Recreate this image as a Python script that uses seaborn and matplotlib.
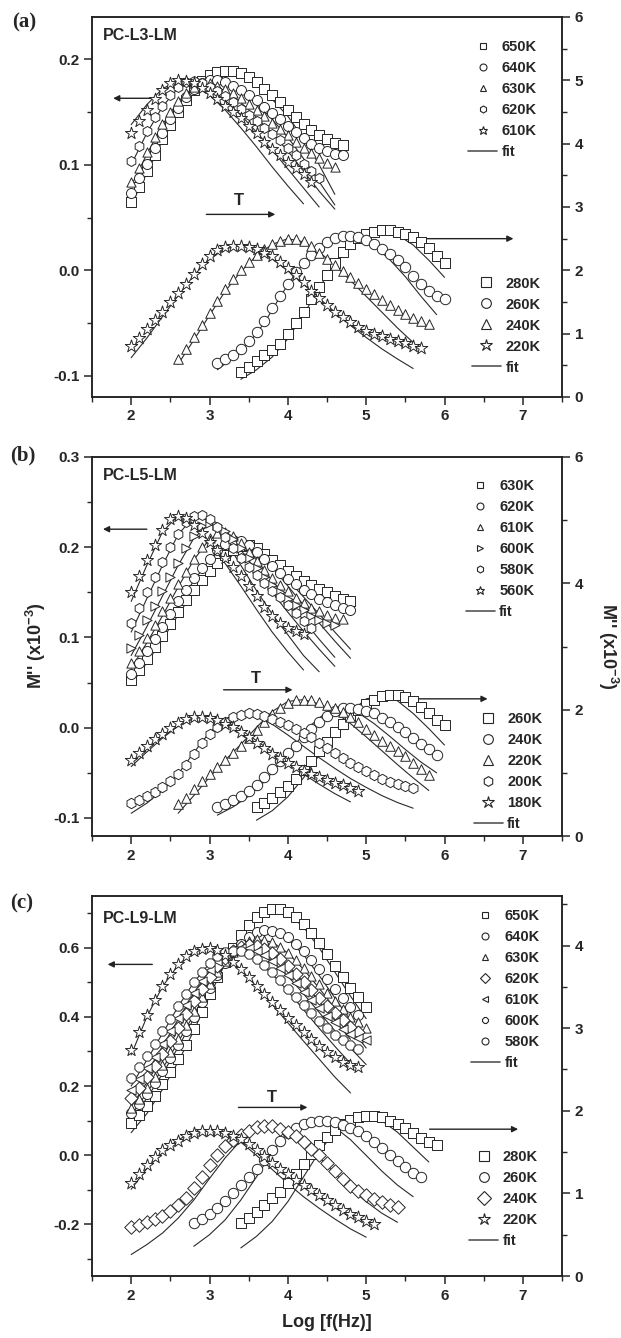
import matplotlib
matplotlib.use("Agg")
import matplotlib.pyplot as plt
import seaborn as sns
import pandas as pd
from matplotlib.lines import Line2D
from matplotlib.ticker import MultipleLocator

# ---------------- data ----------------
# marker series: y values on a log f grid starting at *_x0 with step 0.1
# fit series: y values on a grid starting at *_fx0 with step 0.2

# ---- panel (a) PC-L3-LM, high T (left axis)
a_hi_T = ["650K", "640K", "630K", "620K", "610K"]
a_hi_x0 = [2.0, 2.0, 2.0, 2.0, 2.0]
a_650 = [0.065, 0.079, 0.094, 0.109, 0.124, 0.138, 0.150, 0.161, 0.171, 0.179, 0.185, 0.188, 0.189, 0.189,
         0.187, 0.183, 0.178, 0.172, 0.166, 0.159, 0.152, 0.145, 0.139, 0.133, 0.128, 0.124, 0.121, 0.119]
a_640 = [0.073, 0.087, 0.101, 0.116, 0.130, 0.143, 0.154, 0.164, 0.172, 0.177, 0.180, 0.180, 0.178, 0.175,
         0.171, 0.166, 0.161, 0.155, 0.149, 0.143, 0.137, 0.131, 0.125, 0.120, 0.116, 0.113, 0.110, 0.109]
a_630 = [0.084, 0.097, 0.112, 0.126, 0.139, 0.150, 0.160, 0.168, 0.174, 0.177, 0.177, 0.175, 0.172, 0.168,
         0.163, 0.158, 0.152, 0.146, 0.140, 0.134, 0.128, 0.122, 0.116, 0.111, 0.106, 0.102, 0.098]
a_620 = [0.104, 0.118, 0.132, 0.145, 0.156, 0.166, 0.174, 0.178, 0.179, 0.177, 0.174, 0.170, 0.165, 0.159,
         0.153, 0.147, 0.141, 0.135, 0.129, 0.123, 0.116, 0.109, 0.101, 0.094, 0.087]
a_610 = [0.130, 0.141, 0.152, 0.162, 0.171, 0.177, 0.180, 0.179, 0.177, 0.173, 0.168, 0.162, 0.156, 0.150,
         0.144, 0.137, 0.130, 0.122, 0.115, 0.109, 0.103, 0.097, 0.091, 0.084]
a_hi_fx0 = [2.0, 2.0, 2.0, 2.0, 2.0]
a_650_fit = [0.062, 0.092, 0.123, 0.150, 0.171, 0.185, 0.189, 0.186, 0.176, 0.162, 0.146, 0.125, 0.100, 0.072]
a_640_fit = [0.070, 0.099, 0.129, 0.153, 0.171, 0.179, 0.178, 0.170, 0.158, 0.143, 0.126, 0.106, 0.084, 0.062]
a_630_fit = [0.080, 0.110, 0.138, 0.160, 0.174, 0.177, 0.170, 0.159, 0.145, 0.130, 0.113, 0.094, 0.075, 0.058]
a_620_fit = [0.100, 0.130, 0.155, 0.173, 0.179, 0.172, 0.161, 0.147, 0.131, 0.114, 0.096, 0.078, 0.060]
a_610_fit = [0.138, 0.157, 0.172, 0.180, 0.176, 0.166, 0.152, 0.135, 0.117, 0.098, 0.080, 0.063]

# ---- panel (a), low T (right axis)
a_lo_T = ["280K", "260K", "240K", "220K"]
a_lo_x0 = [3.4, 3.1, 2.6, 2.0]
a_280 = [0.40, 0.47, 0.57, 0.66, 0.74, 0.84, 1.00, 1.17, 1.35, 1.54, 1.73, 1.93, 2.12, 2.29, 2.42, 2.51,
         2.57, 2.61, 2.63, 2.63, 2.61, 2.57, 2.52, 2.45, 2.35, 2.23, 2.12]
a_260 = [0.53, 0.60, 0.67, 0.76, 0.88, 1.03, 1.20, 1.40, 1.60, 1.79, 1.97, 2.12, 2.25, 2.36, 2.45, 2.51,
         2.54, 2.54, 2.52, 2.48, 2.42, 2.34, 2.26, 2.17, 2.05, 1.91, 1.79, 1.68, 1.60, 1.55]
a_240 = [0.60, 0.76, 0.95, 1.13, 1.32, 1.52, 1.70, 1.86, 2.00, 2.13, 2.24, 2.34, 2.42, 2.47, 2.50, 2.50,
         2.46, 2.38, 2.28, 2.18, 2.08, 1.99, 1.89, 1.80, 1.71, 1.62, 1.53, 1.45, 1.37, 1.31, 1.25, 1.20, 1.16]
a_220 = [0.80, 0.93, 1.07, 1.21, 1.35, 1.50, 1.64, 1.79, 1.95, 2.10, 2.23, 2.32, 2.37, 2.39, 2.39, 2.37,
         2.33, 2.28, 2.22, 2.13, 2.04, 1.93, 1.81, 1.68, 1.56, 1.45, 1.35, 1.26, 1.18, 1.11, 1.05, 1.00,
         0.96, 0.92, 0.89, 0.85, 0.81, 0.77]
a_lo_fx0 = [3.4, 3.1, 2.6, 2.0]
a_280_fit = [0.28, 0.43, 0.63, 0.92, 1.30, 1.72, 2.12, 2.43, 2.59, 2.63, 2.56, 2.40, 2.16, 1.89]
a_260_fit = [0.43, 0.62, 0.85, 1.17, 1.58, 1.96, 2.25, 2.45, 2.54, 2.51, 2.39, 2.17, 1.90, 1.59, 1.30]
a_240_fit = [0.52, 0.90, 1.29, 1.67, 1.98, 2.23, 2.41, 2.50, 2.45, 2.29, 2.08, 1.84, 1.59, 1.34, 1.09, 0.86]
a_220_fit = [0.62, 0.93, 1.27, 1.60, 1.92, 2.18, 2.34, 2.39, 2.32, 2.18, 1.99, 1.78, 1.56, 1.34, 1.13,
             0.94, 0.76, 0.60, 0.45]

# ---- panel (b) PC-L5-LM, high T (left axis)
b_hi_T = ["630K", "620K", "610K", "600K", "580K", "560K"]
b_hi_x0 = [2.0, 2.0, 2.0, 2.0, 2.0, 2.0]
b_630 = [0.053, 0.064, 0.076, 0.089, 0.102, 0.115, 0.128, 0.141, 0.153, 0.164, 0.174, 0.183, 0.191, 0.197,
         0.201, 0.202, 0.199, 0.193, 0.186, 0.180, 0.174, 0.168, 0.163, 0.158, 0.154, 0.150, 0.146, 0.143, 0.140]
b_620 = [0.060, 0.072, 0.085, 0.098, 0.112, 0.126, 0.140, 0.153, 0.166, 0.177, 0.187, 0.197, 0.204, 0.208,
         0.207, 0.202, 0.195, 0.187, 0.179, 0.172, 0.165, 0.159, 0.153, 0.148, 0.143, 0.139, 0.136, 0.133, 0.131]
b_610 = [0.072, 0.085, 0.099, 0.114, 0.129, 0.144, 0.159, 0.173, 0.187, 0.200, 0.210, 0.216, 0.217, 0.213,
         0.205, 0.195, 0.185, 0.175, 0.166, 0.158, 0.151, 0.144, 0.138, 0.133, 0.129, 0.125, 0.122, 0.120]
b_600 = [0.088, 0.103, 0.119, 0.135, 0.151, 0.167, 0.183, 0.199, 0.213, 0.223, 0.227, 0.225, 0.218, 0.209,
         0.199, 0.188, 0.177, 0.167, 0.158, 0.150, 0.143, 0.136, 0.130, 0.124, 0.119, 0.116, 0.114]
b_580 = [0.116, 0.133, 0.150, 0.167, 0.184, 0.200, 0.215, 0.228, 0.235, 0.236, 0.231, 0.222, 0.211, 0.199,
         0.188, 0.178, 0.169, 0.160, 0.152, 0.145, 0.136, 0.127, 0.118, 0.111]
b_560 = [0.150, 0.168, 0.186, 0.203, 0.219, 0.231, 0.235, 0.232, 0.225, 0.216, 0.206, 0.197, 0.188, 0.178,
         0.168, 0.157, 0.146, 0.134, 0.124, 0.116, 0.111, 0.107, 0.104]
b_hi_fx0 = [2.0, 2.0, 2.0, 2.0, 2.0, 2.0]
b_630_fit = [0.048, 0.072, 0.098, 0.125, 0.151, 0.173, 0.190, 0.200, 0.197, 0.183, 0.164, 0.145, 0.126, 0.106, 0.087]
b_620_fit = [0.055, 0.080, 0.107, 0.136, 0.163, 0.186, 0.203, 0.207, 0.196, 0.178, 0.157, 0.136, 0.116, 0.096, 0.077]
b_610_fit = [0.066, 0.094, 0.124, 0.156, 0.186, 0.209, 0.217, 0.206, 0.186, 0.163, 0.141, 0.119, 0.098, 0.078]
b_600_fit = [0.080, 0.112, 0.146, 0.180, 0.210, 0.226, 0.218, 0.197, 0.174, 0.150, 0.128, 0.107, 0.087, 0.068]
b_580_fit = [0.106, 0.143, 0.180, 0.214, 0.234, 0.230, 0.208, 0.180, 0.152, 0.126, 0.103, 0.080, 0.062]
b_560_fit = [0.140, 0.180, 0.217, 0.235, 0.226, 0.206, 0.182, 0.157, 0.131, 0.106, 0.084, 0.064]

# ---- panel (b), low T (right axis)
b_lo_T = ["260K", "240K", "220K", "200K", "180K"]
b_lo_x0 = [3.6, 3.1, 2.6, 2.0, 2.0]
b_260 = [0.46, 0.52, 0.60, 0.69, 0.79, 0.91, 1.05, 1.19, 1.34, 1.49, 1.64, 1.78, 1.90, 2.00, 2.09, 2.16,
         2.21, 2.23, 2.23, 2.20, 2.14, 2.05, 1.94, 1.84, 1.75]
b_240 = [0.46, 0.51, 0.57, 0.64, 0.72, 0.81, 0.93, 1.06, 1.19, 1.31, 1.43, 1.56, 1.69, 1.80, 1.90, 1.98,
         2.02, 2.03, 2.01, 1.98, 1.94, 1.87, 1.80, 1.72, 1.64, 1.55, 1.46, 1.37, 1.29]
b_220 = [0.50, 0.60, 0.75, 0.87, 0.98, 1.09, 1.20, 1.31, 1.43, 1.55, 1.68, 1.81, 1.93, 2.03, 2.11, 2.15,
         2.16, 2.15, 2.12, 2.08, 2.03, 1.97, 1.89, 1.80, 1.70, 1.60, 1.51, 1.43, 1.35, 1.26, 1.16, 1.06, 0.97]
b_200 = [0.52, 0.57, 0.63, 0.70, 0.77, 0.87, 0.98, 1.13, 1.30, 1.47, 1.61, 1.72, 1.81, 1.88, 1.92, 1.94,
         1.93, 1.90, 1.86, 1.81, 1.76, 1.70, 1.63, 1.56, 1.48, 1.40, 1.32, 1.24, 1.16, 1.09, 1.03, 0.97,
         0.91, 0.86, 0.83, 0.79, 0.76]
b_180 = [1.20, 1.32, 1.43, 1.53, 1.62, 1.71, 1.79, 1.85, 1.88, 1.89, 1.87, 1.83, 1.78, 1.72, 1.65, 1.57,
         1.48, 1.39, 1.30, 1.23, 1.16, 1.09, 1.03, 0.98, 0.93, 0.88, 0.84, 0.80, 0.76, 0.72]
b_lo_fx0 = [3.6, 3.1, 2.6, 2.0, 2.0]
b_260_fit = [0.25, 0.40, 0.62, 0.92, 1.28, 1.64, 1.96, 2.17, 2.23, 2.14, 1.94, 1.70, 1.44]
b_240_fit = [0.33, 0.46, 0.63, 0.86, 1.15, 1.46, 1.76, 1.97, 2.03, 1.95, 1.78, 1.58, 1.37, 1.17, 1.00]
b_220_fit = [0.36, 0.64, 0.93, 1.20, 1.45, 1.72, 1.97, 2.13, 2.16, 2.09, 1.96, 1.78, 1.57, 1.35, 1.13, 0.92, 0.72]
b_200_fit = [0.36, 0.52, 0.72, 0.98, 1.32, 1.64, 1.86, 1.94, 1.90, 1.77, 1.60, 1.42, 1.24, 1.07, 0.91,
             0.77, 0.64, 0.53, 0.44]
b_180_fit = [1.10, 1.33, 1.55, 1.74, 1.86, 1.89, 1.82, 1.68, 1.51, 1.33, 1.15, 0.98, 0.82, 0.67, 0.54]

# ---- panel (c) PC-L9-LM, high T (left axis)
c_hi_T = ["650K", "640K", "630K", "620K", "610K", "600K", "580K"]
c_hi_x0 = [2.0, 2.0, 2.0, 2.0, 2.0, 2.0, 2.0]
c_650 = [0.092, 0.115, 0.142, 0.172, 0.205, 0.240, 0.277, 0.318, 0.365, 0.415, 0.465, 0.515, 0.560, 0.600,
         0.637, 0.665, 0.688, 0.703, 0.711, 0.712, 0.705, 0.690, 0.668, 0.642, 0.614, 0.582, 0.548, 0.515,
         0.484, 0.458, 0.430]
c_640 = [0.121, 0.147, 0.176, 0.208, 0.243, 0.280, 0.318, 0.358, 0.400, 0.442, 0.483, 0.522, 0.557, 0.587,
         0.612, 0.632, 0.645, 0.651, 0.650, 0.643, 0.630, 0.612, 0.590, 0.565, 0.538, 0.510, 0.482, 0.455,
         0.428, 0.405]
c_630 = [0.136, 0.163, 0.193, 0.226, 0.261, 0.298, 0.337, 0.377, 0.418, 0.458, 0.496, 0.531, 0.562, 0.587,
         0.606, 0.619, 0.625, 0.624, 0.616, 0.602, 0.585, 0.565, 0.543, 0.519, 0.494, 0.469, 0.445, 0.422,
         0.401, 0.384, 0.369]
c_620 = [0.165, 0.194, 0.225, 0.258, 0.293, 0.330, 0.368, 0.407, 0.445, 0.482, 0.516, 0.546, 0.571, 0.590,
         0.603, 0.608, 0.606, 0.598, 0.585, 0.567, 0.547, 0.525, 0.502, 0.478, 0.455, 0.432, 0.410, 0.390,
         0.372, 0.356]
c_610 = [0.189, 0.219, 0.251, 0.285, 0.321, 0.358, 0.396, 0.434, 0.470, 0.504, 0.535, 0.561, 0.581, 0.594,
         0.600, 0.599, 0.592, 0.579, 0.562, 0.542, 0.520, 0.497, 0.473, 0.449, 0.426, 0.404, 0.384, 0.366,
         0.351, 0.340, 0.332]
c_600 = [0.223, 0.254, 0.287, 0.322, 0.358, 0.395, 0.432, 0.467, 0.500, 0.530, 0.556, 0.575, 0.587, 0.592,
         0.590, 0.582, 0.568, 0.550, 0.529, 0.506, 0.482, 0.458, 0.434, 0.411, 0.389, 0.368, 0.349, 0.332,
         0.318, 0.307]
c_580 = [0.305, 0.355, 0.405, 0.450, 0.490, 0.525, 0.553, 0.575, 0.590, 0.598, 0.600, 0.593, 0.578, 0.560,
         0.540, 0.516, 0.490, 0.466, 0.442, 0.420, 0.398, 0.377, 0.356, 0.336, 0.317, 0.299, 0.283, 0.270,
         0.262, 0.255]
c_hi_fx0 = [2.0, 2.0, 2.0, 2.0, 2.0, 2.0, 2.0]
c_650_fit = [0.065, 0.120, 0.190, 0.270, 0.360, 0.460, 0.555, 0.635, 0.690, 0.712, 0.700, 0.660, 0.600,
             0.530, 0.460, 0.395]
c_640_fit = [0.100, 0.165, 0.235, 0.312, 0.395, 0.478, 0.553, 0.610, 0.645, 0.650, 0.625, 0.580, 0.520,
             0.455, 0.390]
c_630_fit = [0.115, 0.180, 0.250, 0.327, 0.407, 0.485, 0.553, 0.600, 0.624, 0.617, 0.585, 0.538, 0.483,
             0.425, 0.367, 0.310]
c_620_fit = [0.140, 0.210, 0.285, 0.363, 0.440, 0.512, 0.568, 0.600, 0.607, 0.588, 0.550, 0.500, 0.445,
             0.390, 0.335]
c_610_fit = [0.165, 0.238, 0.315, 0.393, 0.468, 0.533, 0.580, 0.600, 0.593, 0.562, 0.518, 0.467, 0.413,
             0.360, 0.310, 0.262]
c_600_fit = [0.200, 0.275, 0.352, 0.430, 0.500, 0.555, 0.587, 0.590, 0.566, 0.525, 0.475, 0.421, 0.367,
             0.315, 0.265]
c_580_fit = [0.290, 0.400, 0.488, 0.550, 0.590, 0.600, 0.578, 0.538, 0.488, 0.436, 0.383, 0.330, 0.278,
             0.226, 0.180]

# ---- panel (c), low T (right axis)
c_lo_T = ["280K", "260K", "240K", "220K"]
c_lo_x0 = [3.4, 2.8, 2.0, 2.0]
c_280 = [0.64, 0.70, 0.78, 0.86, 0.94, 1.02, 1.12, 1.24, 1.36, 1.48, 1.58, 1.68, 1.77, 1.84, 1.89, 1.92,
         1.94, 1.94, 1.92, 1.88, 1.84, 1.79, 1.73, 1.67, 1.62, 1.58]
c_260 = [0.64, 0.69, 0.75, 0.82, 0.91, 1.00, 1.10, 1.20, 1.30, 1.41, 1.53, 1.64, 1.73, 1.79, 1.84, 1.87,
         1.88, 1.88, 1.86, 1.83, 1.79, 1.75, 1.69, 1.62, 1.55, 1.47, 1.39, 1.32, 1.25, 1.20]
c_240 = [0.59, 0.62, 0.65, 0.69, 0.73, 0.79, 0.86, 0.95, 1.07, 1.20, 1.34, 1.47, 1.57, 1.65, 1.71, 1.76,
         1.80, 1.82, 1.81, 1.78, 1.74, 1.69, 1.62, 1.54, 1.46, 1.37, 1.27, 1.17, 1.09, 1.03, 0.98, 0.93,
         0.89, 0.86, 0.84]
c_220 = [1.13, 1.24, 1.34, 1.44, 1.52, 1.59, 1.64, 1.69, 1.73, 1.75, 1.76, 1.75, 1.73, 1.70, 1.66, 1.60,
         1.53, 1.45, 1.37, 1.30, 1.23, 1.16, 1.10, 1.04, 0.98, 0.92, 0.86, 0.80, 0.75, 0.71, 0.67, 0.63]
c_lo_fx0 = [3.4, 2.8, 2.0, 2.0]
c_280_fit = [0.34, 0.48, 0.66, 0.90, 1.20, 1.50, 1.75, 1.90, 1.94, 1.88, 1.74, 1.56, 1.38]
c_260_fit = [0.36, 0.50, 0.68, 0.92, 1.20, 1.50, 1.74, 1.86, 1.88, 1.80, 1.65, 1.46, 1.27, 1.10, 0.96]
c_240_fit = [0.26, 0.38, 0.52, 0.70, 0.92, 1.18, 1.43, 1.64, 1.78, 1.82, 1.76, 1.62, 1.44, 1.24, 1.06,
             0.90, 0.76, 0.65]
c_220_fit = [1.05, 1.30, 1.50, 1.65, 1.74, 1.76, 1.72, 1.62, 1.46, 1.29, 1.12, 0.96, 0.82, 0.69, 0.57, 0.47]

# marker shapes (plot) and legend shapes
a_hi_mk = ["s", "o", "^", "h", "*"]
a_lo_mk = ["s", "o", "^", "*"]
b_hi_mk = ["s", "o", "^", ">", "h", "*"]
b_lo_mk = ["s", "o", "^", "h", "*"]
c_hi_mk = ["s", "o", "^", "D", "<", "8", "*"]
c_hi_leg_mk = ["s", "o", "^", "D", "<", "8", "o"]
c_lo_mk = ["s", "o", "D", "*"]

# ---------------- helpers ----------------
def frame(labels, x0s, ys, step):
    rows = []
    for lab, x0, y in zip(labels, x0s, ys):
        for i, v in enumerate(y):
            rows.append((lab, round(x0 + step * i, 3), v))
    return pd.DataFrame(rows, columns=["T", "logf", "M"])


EDGE = "#262626"
FITC = "#2a2a2a"


def draw_group(ax, labels, x0s, ys, fx0s, fys, markers, size):
    fit = frame(labels, fx0s, fys, 0.2)
    sns.lineplot(data=fit, x="logf", y="M", units="T", estimator=None, color=FITC,
                 lw=0.8, ax=ax, legend=False, zorder=1, sort=False)
    dat = frame(labels, x0s, ys, 0.1)
    for lab, m in zip(labels, markers):
        sub = dat[dat["T"] == lab]
        s = size * (1.6 if m == "*" else (0.85 if m in ("^", "<", ">", "D") else 1.0))
        sns.scatterplot(data=sub, x="logf", y="M", marker=m, s=s, color="white",
                        edgecolor=EDGE, linewidth=0.7, ax=ax, legend=False, zorder=2)


def add_legend(ax, labels, markers, ms, x, y, spacing):
    handles = [Line2D([], [], ls="none", marker=m, ms=ms * (1.25 if m == "*" else 1.0), mfc="white",
                      mec=EDGE, mew=0.8) for m in markers]
    handles.append(Line2D([], [], color="#555555", lw=1.2))
    leg = ax.legend(handles, list(labels) + ["fit"], loc="upper left", bbox_to_anchor=(x, y),
                    bbox_transform=ax.transAxes, frameon=False, borderpad=0, borderaxespad=0,
                    handlelength=2.0, handletextpad=0.3, labelspacing=spacing,
                    prop={"weight": "bold", "size": 10.5})
    return leg


def arrow(ax, x0, x1, y):
    ax.annotate("", xy=(x1, y), xytext=(x0, y),
                arrowprops=dict(arrowstyle="-|>", color="#222222", lw=1.0, mutation_scale=9,
                                shrinkA=0, shrinkB=0))


# ---------------- figure ----------------
sns.set_style("ticks")
plt.rcParams["font.family"] = ["Liberation Sans", "DejaVu Sans"]
plt.rcParams["font.weight"] = "bold"
plt.rcParams["axes.unicode_minus"] = False
plt.rcParams["mathtext.fontset"] = "custom"
plt.rcParams["mathtext.rm"] = "Liberation Sans:bold"
plt.rcParams["mathtext.bf"] = "Liberation Sans:bold"
plt.rcParams["mathtext.default"] = "bf"

fig = plt.figure(figsize=(6.21, 13.38), dpi=100)
L, W = 92 / 621, 470 / 621
tops = [17, 457, 896]
bots = [397, 836, 1276]
axes = []
for t, b in zip(tops, bots):
    ax = fig.add_axes([L, 1 - b / 1338, W, (b - t) / 1338])
    axes.append(ax)

cfg = [
    dict(ylim=(-0.12, 0.24), mnr=0.05, fmt="{:.1f}", y2=(0, 6), maj2=1, mnr2=0.5, yt=[-0.1, 0.0, 0.1, 0.2],
         name="PC-L3-LM"),
    dict(ylim=(-0.12, 0.30), mnr=0.05, fmt="{:.1f}", y2=(0, 6), maj2=2, mnr2=1, yt=[-0.1, 0.0, 0.1, 0.2, 0.3],
         name="PC-L5-LM"),
    dict(ylim=(-0.35, 0.75), mnr=0.1, fmt="{:.1f}", y2=(0, 4.6), maj2=1, mnr2=0.5, yt=[-0.2, 0.0, 0.2, 0.4, 0.6],
         name="PC-L9-LM"),
]

groups = [
    (a_hi_T, a_hi_x0, [a_650, a_640, a_630, a_620, a_610], a_hi_fx0,
     [a_650_fit, a_640_fit, a_630_fit, a_620_fit, a_610_fit], a_hi_mk, a_hi_mk,
     a_lo_T, a_lo_x0, [a_280, a_260, a_240, a_220], a_lo_fx0,
     [a_280_fit, a_260_fit, a_240_fit, a_220_fit], a_lo_mk),
    (b_hi_T, b_hi_x0, [b_630, b_620, b_610, b_600, b_580, b_560], b_hi_fx0,
     [b_630_fit, b_620_fit, b_610_fit, b_600_fit, b_580_fit, b_560_fit], b_hi_mk, b_hi_mk,
     b_lo_T, b_lo_x0, [b_260, b_240, b_220, b_200, b_180], b_lo_fx0,
     [b_260_fit, b_240_fit, b_220_fit, b_200_fit, b_180_fit], b_lo_mk),
    (c_hi_T, c_hi_x0, [c_650, c_640, c_630, c_620, c_610, c_600, c_580], c_hi_fx0,
     [c_650_fit, c_640_fit, c_630_fit, c_620_fit, c_610_fit, c_600_fit, c_580_fit], c_hi_mk, c_hi_leg_mk,
     c_lo_T, c_lo_x0, [c_280, c_260, c_240, c_220], c_lo_fx0,
     [c_280_fit, c_260_fit, c_240_fit, c_220_fit], c_lo_mk),
]

leg_pos = [((0.800, 0.940), (0.808, 0.317)),
           ((0.795, 0.942), (0.812, 0.327)),
           ((0.806, 0.966), (0.802, 0.331))]

arrows = [
    dict(left=(2.25, 1.77, 0.163), t=(3.37, 0.066), tarr=(2.96, 3.84, 0.053), right=(5.75, 6.88, 0.030)),
    dict(left=(2.20, 1.64, 0.220), t=(3.59, 0.055), tarr=(3.18, 4.06, 0.042), right=(5.42, 6.55, 0.032)),
    dict(left=(2.27, 1.70, 0.552), t=(3.80, 0.167), tarr=(3.37, 4.25, 0.138), right=(5.81, 6.94, 0.075)),
]

for i, (ax, c, g) in enumerate(zip(axes, cfg, groups)):
    (hT, hx0, hys, hfx0, hfys, hmk, hlegmk, lT, lx0, lys, lfx0, lfys, lmk) = g
    ax2 = ax.twinx()
    draw_group(ax, hT, hx0, hys, hfx0, hfys, hmk, 52)
    draw_group(ax2, lT, lx0, lys, lfx0, lfys, lmk, 56)

    ax.set_xlim(1.5, 7.5)
    ax.set_ylim(*c["ylim"])
    ax2.set_ylim(*c["y2"])
    ax.set_yticks(c["yt"])
    ax.set_yticklabels([c["fmt"].format(v) for v in c["yt"]])
    ax.yaxis.set_minor_locator(MultipleLocator(c["mnr"]))
    ax2.yaxis.set_major_locator(MultipleLocator(c["maj2"]))
    ax2.yaxis.set_minor_locator(MultipleLocator(c["mnr2"]))
    ax.xaxis.set_major_locator(MultipleLocator(1))
    ax.xaxis.set_minor_locator(MultipleLocator(0.5))
    ax.set_xlabel("")
    ax.set_ylabel("")
    ax2.set_ylabel("")
    for a in (ax, ax2):
        a.tick_params(which="major", direction="out", length=6, width=1.1, labelsize=11, pad=3)
        a.tick_params(which="minor", direction="out", length=3.5, width=1.0)
        for sp in a.spines.values():
            sp.set_visible(True)
            sp.set_linewidth(1.1)
            sp.set_color("#222222")
        for lab in a.get_xticklabels() + a.get_yticklabels():
            lab.set_fontweight("bold")
    ax2.tick_params(axis="y", which="both", right=True, left=False)

    ax.text(0.023, 0.952 if i < 2 else 0.941, c["name"], transform=ax.transAxes, fontsize=11.5,
            fontweight="bold", va="center", ha="left")

    (p1, p2) = leg_pos[i]
    leg1 = add_legend(ax2, hT, hlegmk, 5.0, p1[0], p1[1], 0.48)
    ax2.add_artist(leg1)
    add_legend(ax2, lT, lmk, 7.0, p2[0], p2[1], 0.48)

    ar = arrows[i]
    arrow(ax, ar["left"][0], ar["left"][1], ar["left"][2])
    arrow(ax, ar["tarr"][0], ar["tarr"][1], ar["tarr"][2])
    arrow(ax, ar["right"][0], ar["right"][1], ar["right"][2])
    ax.text(ar["t"][0], ar["t"][1], "T", fontsize=12, fontweight="bold", ha="center", va="center")

axes[2].set_xlabel("Log [f(Hz)]", fontsize=13, fontweight="bold", labelpad=8)

fig.text(36 / 621, 1 - 646 / 1338, "M'' (x10$^{-3}$)", rotation=90, fontsize=13, fontweight="bold",
         ha="center", va="center")
fig.text(608 / 621, 1 - 646 / 1338, "M'' (x10$^{-3}$)", rotation=270, fontsize=13, fontweight="bold",
         ha="center", va="center")

for lab, (x, y) in zip(["(a)", "(b)", "(c)"], [(24, 22), (23, 455), (22, 903)]):
    fig.text(x / 621, 1 - y / 1338, lab, fontsize=15, fontweight="bold", family="Liberation Serif",
             ha="center", va="center")

fig.savefig("out.png", dpi=100)
